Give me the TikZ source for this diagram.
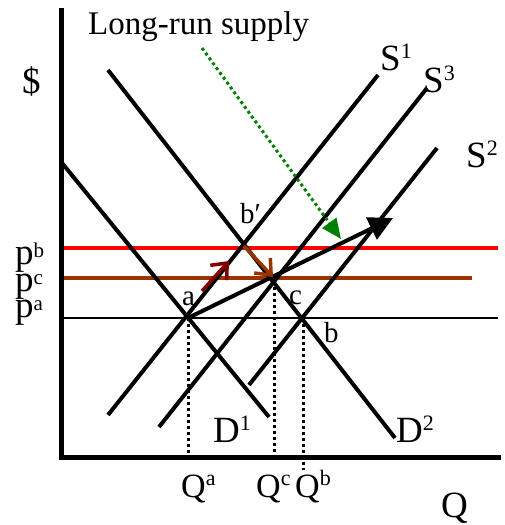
\documentclass[tikz,border=0pt]{standalone}
\usepackage{fontspec}
\setmainfont{Liberation Serif}
\usetikzlibrary{arrows.meta}
\definecolor{brn}{HTML}{993300}
\definecolor{dred}{HTML}{800000}
\definecolor{lgreen}{HTML}{008000}
\definecolor{pred}{HTML}{FF0000}
\newcommand{\up}[1]{\raisebox{12pt}{\fontsize{22}{22}\selectfont #1}}
\newcommand{\upp}[1]{\raisebox{7pt}{\fontsize{21}{21}\selectfont #1}}
\begin{document}
\begin{tikzpicture}[x=1pt,y=-1pt,
  curve/.style={line width=4pt},
  axis/.style={line width=5pt},
  dots/.style={line width=3pt,dash pattern=on 3pt off 3pt},
  big/.style={anchor=base west,inner sep=0pt,font=\fontsize{37}{37}\selectfont},
  plab/.style={big,text depth=0pt,text height=20pt},
  small/.style={anchor=base west,inner sep=0pt,font=\fontsize{29}{29}\selectfont},
  qlab/.style={anchor=base west,inner sep=0pt,font=\fontsize{34}{34}\selectfont},
  barb/.style={line width=3.5pt,-{Straight Barb[length=13pt,width=22pt]}}]
\useasboundingbox (0,0) rectangle (505,525);
% coordinates
\coordinate (ytop) at (61,10);
\coordinate (O) at (61,457);
\coordinate (xend) at (498,457);
\coordinate (d2a) at (108,70);  \coordinate (d2b) at (395,438);
\coordinate (d1a) at (62,163);  \coordinate (d1b) at (269,417);
\coordinate (s1a) at (378,75);  \coordinate (s1b) at (108,415);
\coordinate (s3a) at (427,88);  \coordinate (s3b) at (159,427);
\coordinate (s2a) at (437,148); \coordinate (s2b) at (249,385);
\coordinate (pbl) at (61,248);  \coordinate (pbr) at (498,248);
\coordinate (pcl) at (61,278);  \coordinate (pcr) at (472,278);
\coordinate (pal) at (61,318);  \coordinate (par) at (498,318);
\coordinate (ea) at (188,318);  \coordinate (eqa) at (188,457);
\coordinate (ec) at (274,281);  \coordinate (eqc) at (274,457);
\coordinate (eb) at (303,318);  \coordinate (eqb) at (303,470);
\coordinate (tip) at (393,218);
\coordinate (g1) at (202,48);   \coordinate (g2) at (341,239);
\coordinate (r1) at (202,291);  \coordinate (r2) at (229,261);
\coordinate (o1) at (244,246);  \coordinate (o2) at (273,277);
% horizontal price lines
\draw[line width=4pt,pred] (pbl) -- (pbr);
\draw[line width=4pt,brn] (pcl) -- (pcr);
\draw[line width=2.6pt] (pal) -- (par);
% curves
\draw[curve] (d2a) -- (d2b);
\draw[curve] (d1a) -- (d1b);
\draw[curve] (s1a) -- (s1b);
\draw[curve] (s3a) -- (s3b);
\draw[curve] (s2a) -- (s2b);
% dotted drops
\draw[dots] (ea) -- (eqa);
\draw[dots] (ec) -- (eqc);
\draw[dots] (eb) -- (eqb);
% axes
\draw[axis,line cap=rect] (ytop) -- (O) -- (xend);
% arrows
\draw[line width=4pt,-{Triangle[length=24pt,width=24pt]}] (ea) -- (tip);
\draw[line width=3pt,lgreen,dash pattern=on 3pt off 3pt,-{Triangle[length=20pt,width=17pt]}] (g1) -- (g2);
\draw[barb,dred] (r1) -- (r2);
\draw[barb,brn] (o1) -- (o2);
% labels
\node[anchor=base west,inner sep=0pt,font=\fontsize{33}{33}\selectfont] (lrs) at (88,34) {Long-run supply};
\node[big] (dol) at (22,93) {\$};
\node[big] (lS1) at (380,70) {S\up{1}};
\node[big] (lS3) at (423,92) {S\up{3}};
\node[big] (lS2) at (466,167) {S\up{2}};
\node[big] (lD1) at (213,442) {D\up{1}};
\node[big] (lD2) at (396,442) {D\up{2}};
\node[plab] (lpb) at (15,264) {p\upp{b}};
\node[plab] (lpc) at (15,291) {p\upp{c}};
\node[plab] (lpa) at (15,317) {p\upp{a}};
\node[small] (la) at (182,305) {a};
\node[small] (lbp) at (240,223) {b′};
\node[small] (lc) at (289,304) {c};
\node[small] (lb) at (324,342) {b};
\node[qlab] (lQa) at (181,497) {Q\up{a}};
\node[qlab] (lQc) at (256,497) {Q\up{c}};
\node[qlab] (lQb) at (295,497) {Q\up{b}};
\node[big] (lQ) at (441,517) {Q};
\end{tikzpicture}
\end{document}
